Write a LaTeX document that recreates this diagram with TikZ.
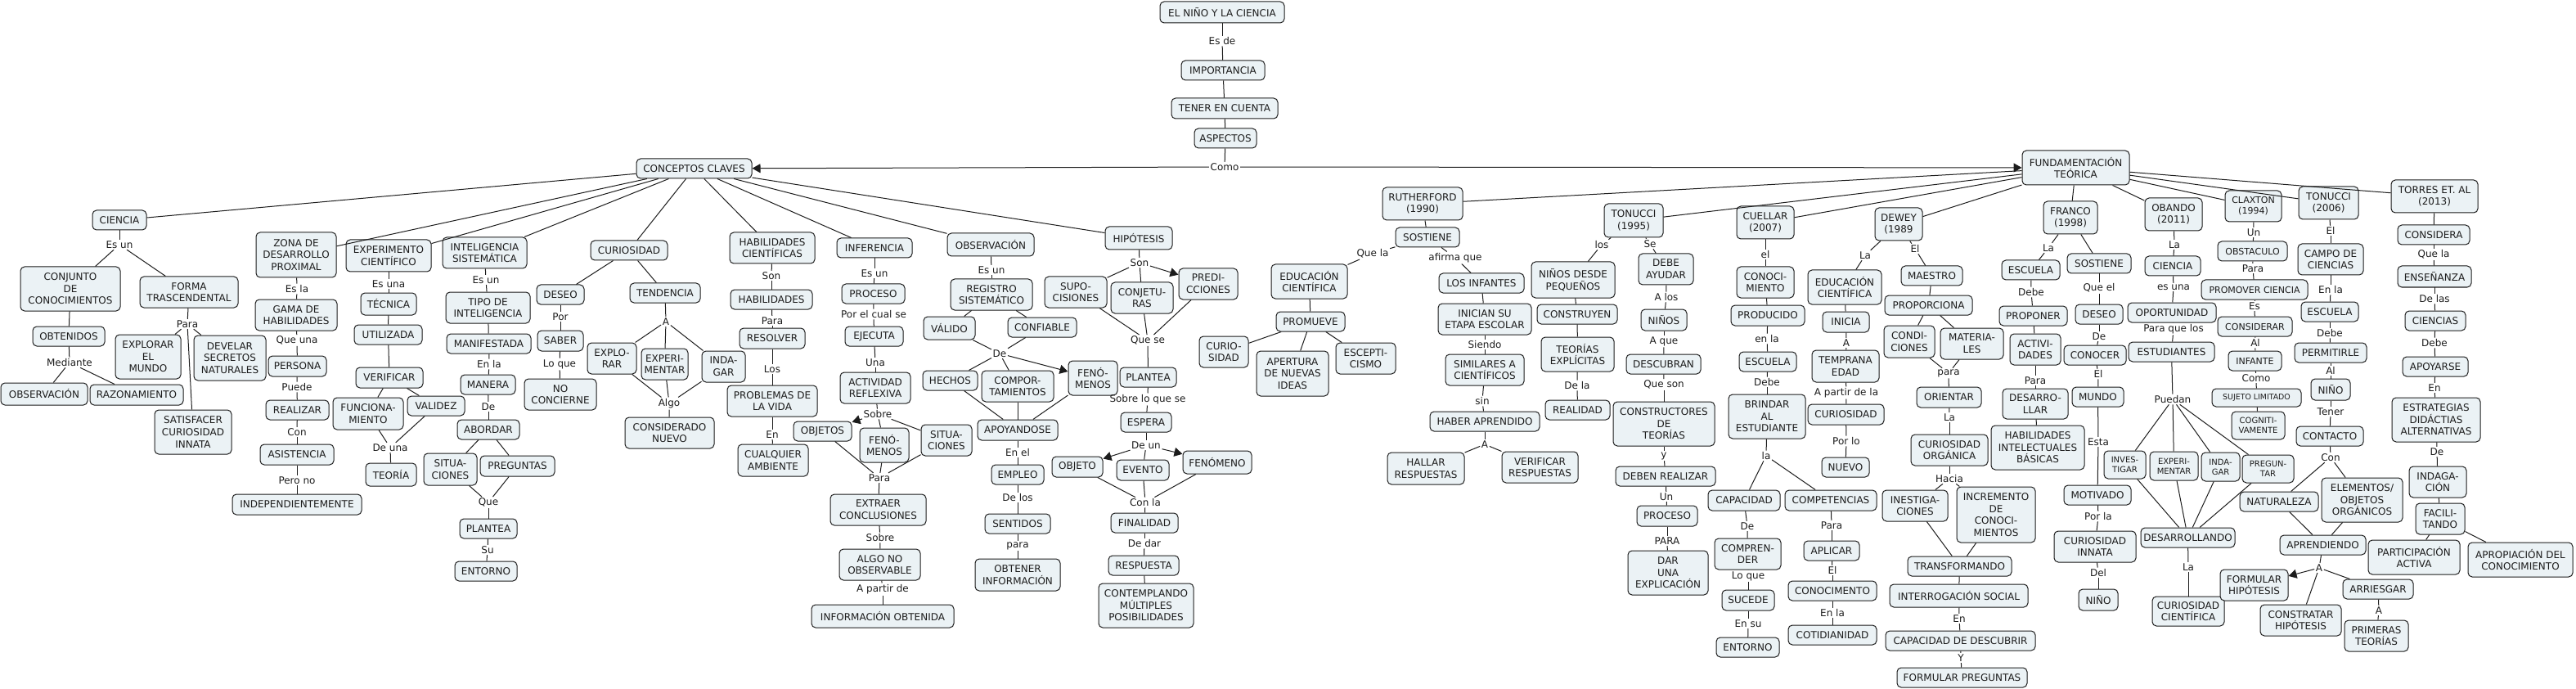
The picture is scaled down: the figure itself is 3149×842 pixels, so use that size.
\documentclass[tikz,border=0pt]{standalone}
\usepackage{fontspec}
\setmainfont{DejaVu Sans}
\usetikzlibrary{arrows.meta}
\definecolor{nfill}{RGB}{235,242,245}
\definecolor{ink}{RGB}{28,28,28}
\newcommand\cmapnode[7][]{\node[box,#1,minimum width={(#5-#3)*1pt},minimum height={(#6-#4)*1pt}] (#2) at ({(#3+#5)/2},{(#4+#6)/2}) {#7};}
\newcommand\cmaplab[4]{\node[lab] (#1) at (#2,#3) {#4};}
\begin{document}
\begin{tikzpicture}[x=1pt,y=-1pt,
  box/.style={draw=ink, fill=nfill, rounded corners=5pt, line width=1pt, align=center, inner xsep=2pt, inner ysep=1pt, font=\fontsize{12}{14.6}\selectfont, text=ink},
  seleven/.style={font=\fontsize{11}{13.2}\selectfont},
  sten/.style={font=\fontsize{10}{12}\selectfont},
  snine/.style={font=\fontsize{9.4}{11}\selectfont},
  lab/.style={inner sep=1.5pt, font=\fontsize{12}{14.6}\selectfont, text=ink},
  ln/.style={draw=ink, line width=1pt},
  arr/.style={ln, -{Triangle[length=10pt,width=11pt]}},
]
\useasboundingbox (0,0) rectangle (3149,842);
% ---------- top chain ----------
\cmapnode{t1}{1418}{2}{1570}{28}{EL NIÑO Y LA CIENCIA}
\cmapnode{t2}{1444}{74}{1546}{98}{IMPORTANCIA}
\cmapnode{t3}{1432}{120}{1562}{145}{TENER EN CUENTA}
\cmapnode{t4}{1460}{157}{1536}{181}{ASPECTOS}
\cmapnode{cc}{778}{194}{919}{218}{CONCEPTOS CLAVES}
\cmapnode{ft}{2472}{184}{2603}{226}{FUNDAMENTACIÓN\\TEÓRICA}
\cmaplab{lEsde}{1494}{50}{Es de}
\cmaplab{lComo}{1497}{204}{Como}
% ---------- CIENCIA ----------
\cmapnode{cien}{113}{257}{179}{281}{CIENCIA}
\cmapnode{conj}{25}{326}{147}{380}{CONJUNTO\\DE\\CONOCIMIENTOS}
\cmapnode{forma}{171}{338}{291}{376}{FORMA\\TRASCENDENTAL}
\cmapnode{obten}{40}{399}{128}{423}{OBTENIDOS}
\cmapnode{obsL}{1}{468}{107}{495}{OBSERVACIÓN}
\cmapnode{razo}{110}{470}{224}{495}{RAZONAMIENTO}
\cmapnode{explm}{141}{409}{221}{463}{EXPLORAR\\EL\\MUNDO}
\cmapnode{devel}{237}{410}{325}{465}{DEVELAR\\SECRETOS\\NATURALES}
\cmapnode{satis}{189}{501}{283}{555}{SATISFACER\\CURIOSIDAD\\INNATA}
\cmaplab{lEsun1}{146}{299}{Es un}
\cmaplab{lMed}{85}{443}{Mediante}
\cmaplab{lPara1}{229}{396}{Para}
% ---------- ZDP ----------
\cmapnode{zdp}{313}{284}{411}{339}{ZONA DE\\DESARROLLO\\PROXIMAL}
\cmapnode{gama}{312}{366}{412}{404}{GAMA DE\\HABILIDADES}
\cmapnode{pers}{328}{435}{399}{460}{PERSONA}
\cmapnode{real}{325}{489}{402}{513}{REALIZAR}
\cmapnode{asis}{318}{543}{408}{568}{ASISTENCIA}
\cmapnode{indep}{284}{604}{442}{629}{INDEPENDIENTEMENTE}
\cmaplab{lEsla}{363}{353}{Es la}
\cmaplab{lQueuna}{363}{416}{Que una}
\cmaplab{lPuede}{363}{473}{Puede}
\cmaplab{lCon}{363}{528}{Con}
\cmaplab{lPerono}{363}{587}{Pero no}
% ---------- EXPERIMENTO ----------
\cmapnode{expc}{423}{293}{527}{332}{EXPERIMENTO\\CIENTÍFICO}
\cmapnode{tecn}{441}{358}{509}{385}{TÉCNICA}
\cmapnode{util}{433}{397}{516}{421}{UTILIZADA}
\cmapnode{verif}{435}{449}{517}{474}{VERIFICAR}
\cmapnode{func}{407}{486}{493}{525}{FUNCIONA-\\MIENTO}
\cmapnode{valid}{498}{484}{568}{508}{VALIDEZ}
\cmapnode{teoria}{447}{566}{509}{594}{TEORÍA}
\cmaplab{lEsuna}{475}{347}{Es una}
\cmaplab{lDeuna}{477}{547}{De una}
% ---------- INTELIGENCIA ----------
\cmapnode{intel}{541}{290}{644}{328}{INTELIGENCIA\\SISTEMÁTICA}
\cmapnode{tipo}{545}{357}{648}{395}{TIPO DE\\INTELIGENCIA}
\cmapnode{manif}{546}{408}{649}{432}{MANIFESTADA}
\cmapnode{manera}{563}{458}{630}{482}{MANERA}
\cmapnode{abord}{559}{513}{635}{537}{ABORDAR}
\cmapnode{sit1}{518}{554}{583}{593}{SITUA-\\CIONES}
\cmapnode{preg}{587}{557}{678}{582}{PREGUNTAS}
\cmapnode{plant1}{562}{634}{632}{658}{PLANTEA}
\cmapnode{ent1}{556}{686}{632}{710}{ENTORNO}
\cmaplab{lEsun2}{594}{342}{Es un}
\cmaplab{lEnla1}{598}{445}{En la}
\cmaplab{lDe1}{597}{497}{De}
\cmaplab{lQue}{597}{614}{Que}
\cmaplab{lSu}{596}{672}{Su}
% ---------- CURIOSIDAD ----------
\cmapnode{curi}{722}{294}{816}{318}{CURIOSIDAD}
\cmapnode{deseo}{656}{348}{714}{372}{DESEO}
\cmapnode{saber}{657}{404}{713}{429}{SABER}
\cmapnode{noconc}{641}{463}{729}{501}{NO\\CONCIERNE}
\cmapnode{tend}{770}{346}{856}{370}{TENDENCIA}
\cmapnode{explo}{718}{419}{778}{457}{EXPLO-\\RAR}
\cmapnode{exper}{784}{426}{841}{464}{EXPERI-\\MENTAR}
\cmapnode{indag}{858}{429}{911}{467}{INDA-\\GAR}
\cmapnode{consid}{764}{510}{873}{548}{CONSIDERADO\\NUEVO}
\cmaplab{lPor}{685}{387}{Por}
\cmaplab{lLoque}{684}{445}{Lo que}
\cmaplab{lA1}{814}{393}{A}
\cmaplab{lAlgo}{818}{493}{Algo}
% ---------- HABILIDADES ----------
\cmapnode{habc}{892}{284}{996}{322}{HABILIDADES\\CIENTÍFICAS}
\cmapnode{hab}{893}{354}{993}{378}{HABILIDADES}
\cmapnode{resol}{904}{401}{984}{426}{RESOLVER}
\cmapnode{probl}{889}{471}{999}{509}{PROBLEMAS DE\\LA VIDA}
\cmapnode{cualq}{902}{543}{988}{582}{CUALQUIER\\AMBIENTE}
\cmaplab{lSon1}{943}{337}{Son}
\cmaplab{lPara2}{944}{392}{Para}
\cmaplab{lLos}{944}{451}{Los}
\cmaplab{lEn1}{944}{531}{En}
% ---------- INFERENCIA ----------
\cmapnode{infe}{1023}{291}{1115}{315}{INFERENCIA}
\cmapnode{proc1}{1029}{347}{1106}{371}{PROCESO}
\cmapnode{ejec}{1033}{399}{1104}{423}{EJECUTA}
\cmapnode{activ}{1027}{455}{1113}{493}{ACTIVIDAD\\REFLEXIVA}
\cmapnode{objs}{970}{515}{1041}{539}{OBJETOS}
\cmapnode{fen1}{1051}{523}{1111}{565}{FENÓ-\\MENOS}
\cmapnode{sit2}{1126}{519}{1188}{557}{SITUA-\\CIONES}
\cmapnode{extr}{1015}{604}{1132}{642}{EXTRAER\\CONCLUSIONES}
\cmapnode{algo}{1026}{671}{1125}{709}{ALGO NO\\OBSERVABLE}
\cmapnode{infob}{992}{739}{1166}{767}{INFORMACIÓN OBTENIDA}
\cmaplab{lEsun3}{1069}{334}{Es un}
\cmaplab{lPorel}{1068}{384}{Por el cual se}
\cmaplab{lUna}{1070}{443}{Una}
\cmaplab{lSobre1}{1073}{506}{Sobre}
\cmaplab{lPara3}{1075}{584}{Para}
\cmaplab{lSobre2}{1076}{657}{Sobre}
\cmaplab{lApartir}{1079}{720}{A partir de}
% ---------- OBSERVACION ----------
\cmapnode{obs}{1158}{285}{1264}{313}{OBSERVACIÓN}
\cmapnode{regis}{1162}{341}{1262}{379}{REGISTRO\\SISTEMÁTICO}
\cmapnode{valido}{1129}{387}{1192}{415}{VÁLIDO}
\cmapnode{confi}{1232}{388}{1316}{412}{CONFIABLE}
\cmapnode{hech}{1128}{453}{1195}{477}{HECHOS}
\cmapnode{compo}{1200}{453}{1288}{491}{COMPOR-\\TAMIENTOS}
\cmapnode{fen2}{1306}{441}{1366}{483}{FENÓ-\\MENOS}
\cmapnode{apoy}{1195}{513}{1293}{538}{APOYANDOSE}
\cmapnode{empleo}{1212}{568}{1276}{592}{EMPLEO}
\cmapnode{sent}{1204}{628}{1284}{652}{SENTIDOS}
\cmapnode{obti}{1192}{683}{1296}{722}{OBTENER\\INFORMACIÓN}
\cmaplab{lEsun4}{1212}{330}{Es un}
\cmaplab{lDe2}{1222}{432}{De}
\cmaplab{lEnel}{1244}{553}{En el}
\cmaplab{lDelos}{1244}{608}{De los}
\cmaplab{lpara}{1244}{667}{para}
% ---------- HIPOTESIS ----------
\cmapnode{hip}{1351}{277}{1433}{305}{HIPÓTESIS}
\cmapnode{supo}{1277}{338}{1353}{376}{SUPO-\\CISIONES}
\cmapnode{conj2}{1358}{345}{1434}{383}{CONJETU-\\RAS}
\cmapnode{pred}{1441}{328}{1513}{366}{PREDI-\\CCIONES}
\cmapnode{plant2}{1369}{449}{1438}{473}{PLANTEA}
\cmapnode{esp}{1370}{504}{1432}{528}{ESPERA}
\cmapnode{objeto}{1286}{558}{1348}{583}{OBJETO}
\cmapnode{evento}{1365}{562}{1429}{587}{EVENTO}
\cmapnode{fenom}{1446}{551}{1530}{579}{FENÓMENO}
\cmapnode{final}{1358}{627}{1440}{651}{FINALIDAD}
\cmapnode{resp}{1355}{679}{1441}{703}{RESPUESTA}
\cmapnode{contem}{1343}{713}{1459}{767}{CONTEMPLANDO\\MÚLTIPLES\\POSIBILIDADES}
\cmaplab{lSon2}{1393}{321}{Son}
\cmaplab{lQuese}{1403}{416}{Que se}
\cmaplab{lSobrelo}{1403}{488}{Sobre lo que se}
\cmaplab{lDeun}{1401}{544}{De un}
\cmaplab{lConla}{1400}{614}{Con la}
\cmaplab{lDedar}{1399}{664}{De dar}
% ---------- RUTHERFORD ----------
\cmapnode{ruth}{1690}{229}{1788}{269}{RUTHERFORD\\(1990)}
\cmapnode{sost1}{1706}{278}{1784}{302}{SOSTIENE}
\cmapnode{educ1}{1554}{323}{1647}{365}{EDUCACIÓN\\CIENTÍFICA}
\cmapnode{promu}{1560}{381}{1644}{405}{PROMUEVE}
\cmapnode{curio2}{1466}{411}{1526}{449}{CURIO-\\SIDAD}
\cmapnode{apert}{1536}{429}{1624}{484}{APERTURA\\DE NUEVAS\\IDEAS}
\cmapnode{escep}{1633}{419}{1706}{457}{ESCEPTI-\\CISMO}
\cmapnode{infan}{1759}{334}{1863}{358}{LOS INFANTES}
\cmapnode{inic}{1758}{371}{1872}{409}{INICIAN SU\\ETAPA ESCOLAR}
\cmapnode{simil}{1767}{433}{1863}{471}{SIMILARES A\\CIENTÍFICOS}
\cmapnode{haber}{1748}{503}{1882}{527}{HABER APRENDIDO}
\cmapnode{hallar}{1696}{553}{1790}{592}{HALLAR\\RESPUESTAS}
\cmapnode{verifr}{1836}{552}{1929}{590}{VERIFICAR\\RESPUESTAS}
\cmaplab{lQuela1}{1678}{310}{Que la}
\cmaplab{lAfirma}{1779}{315}{afirma que}
\cmaplab{lSiendo}{1815}{421}{Siendo}
\cmaplab{lSin}{1812}{490}{sin}
\cmaplab{lA2}{1815}{543}{A}
% ---------- TONUCCI 1995 ----------
\cmapnode{ton1}{1961}{249}{2033}{290}{TONUCCI\\(1995)}
\cmapnode{ninosd}{1872}{320}{1974}{364}{NIÑOS DESDE\\PEQUEÑOS}
\cmapnode{constr}{1879}{372}{1977}{396}{CONSTRUYEN}
\cmapnode{teorex}{1884}{412}{1973}{454}{TEORÍAS\\EXPLÍCITAS}
\cmapnode{realid}{1889}{489}{1968}{513}{REALIDAD}
\cmapnode{debe}{2003}{310}{2070}{348}{DEBE\\AYUDAR}
\cmapnode{ninos}{2006}{378}{2062}{404}{NIÑOS}
\cmapnode{descu}{1988}{433}{2079}{457}{DESCUBRAN}
\cmapnode{constt}{1972}{491}{2096}{545}{CONSTRUCTORES\\DE\\TEORÍAS}
\cmapnode{debenr}{1975}{570}{2097}{594}{DEBEN REALIZAR}
\cmapnode{proc2}{2001}{618}{2075}{643}{PROCESO}
\cmapnode{dar}{1990}{673}{2088}{727}{DAR\\UNA\\EXPLICACIÓN}
\cmaplab{lLos2}{1958}{299}{los}
\cmaplab{lSe}{2017}{298}{Se}
\cmaplab{lDela}{1928}{471}{De la}
\cmaplab{lAlos}{2037}{363}{A los}
\cmaplab{lAque}{2034}{417}{A que}
\cmaplab{lQueson}{2034}{470}{Que son}
\cmaplab{ly}{2034}{557}{y}
\cmaplab{lUn}{2037}{607}{Un}
\cmaplab{lPARA}{2038}{661}{PARA}
% ---------- CUELLAR ----------
\cmapnode{cuel}{2123}{252}{2193}{292}{CUELLAR\\(2007)}
\cmapnode{conoc}{2123}{326}{2193}{364}{CONOCI-\\MIENTO}
\cmapnode{produ}{2116}{373}{2206}{398}{PRODUCIDO}
\cmapnode{escu1}{2126}{430}{2196}{454}{ESCUELA}
\cmapnode{brind}{2113}{482}{2207}{536}{BRINDAR\\AL\\ESTUDIANTE}
\cmapnode{capac}{2088}{599}{2176}{624}{CAPACIDAD}
\cmapnode{compr}{2096}{658}{2177}{696}{COMPREN-\\DER}
\cmapnode{suce}{2105}{721}{2169}{746}{SUCEDE}
\cmapnode{ent2}{2098}{779}{2175}{803}{ENTORNO}
\cmapnode{compe}{2182}{599}{2294}{624}{COMPETENCIAS}
\cmapnode{aplic}{2205}{661}{2273}{685}{APLICAR}
\cmapnode{conocm}{2186}{710}{2294}{734}{CONOCIMENTO}
\cmapnode{cotid}{2186}{764}{2294}{788}{COTIDIANIDAD}
\cmaplab{lel}{2158}{311}{el}
\cmaplab{lenla}{2160}{414}{en la}
\cmaplab{lDebe1}{2160}{467}{Debe}
\cmaplab{lla}{2159}{557}{la}
\cmaplab{lDe3}{2136}{643}{De}
\cmaplab{lLoque2}{2137}{704}{Lo que}
\cmaplab{lEnsu}{2137}{762}{En su}
\cmaplab{lPara4}{2239}{642}{Para}
\cmaplab{lEl1}{2240}{697}{El}
\cmaplab{lEnla2}{2240}{749}{En la}
% ---------- DEWEY ----------
\cmapnode{dew}{2292}{254}{2350}{294}{DEWEY\\(1989}
\cmapnode{educ2}{2210}{330}{2300}{372}{EDUCACIÓN\\CIENTÍFICA}
\cmapnode{inicia}{2228}{381}{2285}{406}{INICIA}
\cmapnode{tempr}{2215}{428}{2297}{467}{TEMPRANA\\EDAD}
\cmapnode{curi3}{2210}{494}{2303}{519}{CURIOSIDAD}
\cmapnode{nuevo}{2227}{559}{2285}{583}{NUEVO}
\cmapnode{maes}{2324}{325}{2399}{349}{MAESTRO}
\cmapnode{propo}{2304}{361}{2411}{385}{PROPORCIONA}
\cmapnode{condi}{2303}{398}{2365}{437}{CONDI-\\CIONES}
\cmapnode{mater}{2372}{401}{2449}{439}{MATERIA-\\LES}
\cmapnode{orien}{2343}{473}{2422}{498}{ORIENTAR}
\cmapnode{curorg}{2336}{531}{2430}{569}{CURIOSIDAD\\ORGÁNICA}
\cmapnode{inest}{2301}{599}{2381}{637}{INESTIGA-\\CIONES}
\cmapnode{incre}{2392}{595}{2488}{663}{INCREMENTO\\DE\\CONOCI-\\MIENTOS}
\cmapnode{transf}{2332}{680}{2459}{704}{TRANSFORMANDO}
\cmapnode{interr}{2310}{714}{2479}{742}{INTERROGACIÓN SOCIAL}
\cmapnode{capdes}{2305}{771}{2488}{795}{CAPACIDAD DE DESCUBRIR}
\cmapnode{formp}{2319}{816}{2478}{840}{FORMULAR PREGUNTAS}
\cmaplab{lLa1}{2280}{312}{La}
\cmaplab{lEl2}{2341}{304}{El}
\cmaplab{lA3}{2257}{419}{A}
\cmaplab{lApartirla}{2257}{480}{A partir de la}
\cmaplab{lPorlo}{2257}{539}{Por lo}
\cmaplab{lpara2}{2382}{456}{para}
\cmaplab{lLa2}{2383}{510}{La}
\cmaplab{lHacia}{2383}{585}{Hacia}
\cmaplab{lEn2}{2395}{756}{En}
\cmaplab{lY}{2397}{804}{Y}
% ---------- FRANCO ----------
\cmapnode{fran}{2498}{246}{2564}{286}{FRANCO\\(1998)}
\cmapnode{escu2}{2447}{318}{2518}{342}{ESCUELA}
\cmapnode{propon}{2444}{374}{2527}{398}{PROPONER}
\cmapnode{activ2}{2457}{408}{2519}{446}{ACTIVI-\\DADES}
\cmapnode{desar}{2448}{475}{2528}{512}{DESARRO-\\LLAR}
\cmapnode{habint}{2434}{520}{2548}{574}{HABILIDADES\\INTELECTUALES\\BÁSICAS}
\cmapnode{sost2}{2527}{310}{2605}{334}{SOSTIENE}
\cmapnode{deseo2}{2537}{372}{2595}{396}{DESEO}
\cmapnode{conoce}{2523}{422}{2599}{446}{CONOCER}
\cmapnode{mundo}{2533}{473}{2596}{497}{MUNDO}
\cmapnode{motiv}{2523}{593}{2605}{617}{MOTIVADO}
\cmapnode{curinn}{2511}{649}{2611}{687}{CURIOSIDAD\\INNATA}
\cmapnode{nino1}{2541}{720}{2589}{746}{NIÑO}
\cmaplab{lLa3}{2504}{303}{La}
\cmaplab{lDebe2}{2483}{357}{Debe}
\cmaplab{lPara5}{2488}{465}{Para}
\cmaplab{lQueel}{2566}{352}{Que el}
\cmaplab{lDe4}{2566}{411}{De}
\cmaplab{lEl3}{2565}{457}{El}
\cmaplab{lEsta}{2565}{540}{Esta}
\cmaplab{lPorla}{2565}{631}{Por la}
\cmaplab{lDel}{2565}{700}{Del}
% ---------- OBANDO ----------
\cmapnode{oban}{2622}{242}{2692}{282}{OBANDO\\(2011)}
\cmapnode{cien2}{2622}{313}{2690}{337}{CIENCIA}
\cmapnode{oport}{2601}{370}{2709}{394}{OPORTUNIDAD}
\cmapnode{estud}{2602}{418}{2707}{442}{ESTUDIANTES}
\cmapnode[sten]{inv}{2572}{551}{2623}{585}{INVES-\\TIGAR}
\cmapnode[sten]{expe2}{2628}{552}{2687}{587}{EXPERI-\\MENTAR}
\cmapnode[sten]{inda2}{2691}{553}{2738}{588}{INDA-\\GAR}
\cmapnode[sten]{pregu}{2741}{556}{2804}{590}{PREGUN-\\TAR}
\cmapnode{desarr}{2617}{645}{2732}{669}{DESARROLLANDO}
\cmapnode{curcien}{2631}{729}{2719}{765}{CURIOSIDAD\\CIENTÍFICA}
\cmaplab{lLa4}{2658}{299}{La}
\cmaplab{lesuna}{2657}{351}{es una}
\cmaplab{lParaque}{2657}{402}{Para que los}
\cmaplab{lPuedan}{2656}{488}{Puedan}
\cmaplab{lLa5}{2675}{693}{La}
% ---------- CLAXTON ----------
\cmapnode[seleven]{clax}{2720}{233}{2789}{271}{CLAXTON\\(1994)}
\cmapnode[seleven]{obst}{2711}{295}{2796}{319}{OBSTACULO}
\cmapnode[seleven]{promc}{2691}{342}{2821}{366}{PROMOVER CIENCIA}
\cmapnode[seleven]{consi}{2711}{387}{2802}{411}{CONSIDERAR}
\cmapnode[seleven]{infa}{2724}{429}{2789}{453}{INFANTE}
\cmapnode[snine]{sujet}{2704}{475}{2813}{497}{SUJETO LIMITADO}
\cmapnode[sten]{cogn}{2728}{503}{2793}{537}{COGNITI-\\VAMENTE}
\cmaplab{lUn2}{2755}{284}{Un}
\cmaplab{lPara6}{2754}{328}{Para}
\cmaplab{lEs}{2756}{374}{Es}
\cmaplab{lAl}{2757}{419}{Al}
\cmaplab{lComo2}{2758}{462}{Como}
% ---------- TONUCCI 2006 ----------
\cmapnode{ton2}{2810}{228}{2883}{268}{TONUCCI\\(2006)}
\cmapnode{campo}{2809}{298}{2889}{336}{CAMPO DE\\CIENCIAS}
\cmapnode{escu3}{2813}{369}{2883}{393}{ESCUELA}
\cmapnode{permi}{2805}{419}{2893}{443}{PERMITIRLE}
\cmapnode{nino2}{2825}{463}{2873}{489}{NIÑO}
\cmapnode{conta}{2807}{521}{2889}{545}{CONTACTO}
\cmapnode{natu}{2738}{601}{2834}{625}{NATURALEZA}
\cmapnode{eleme}{2838}{584}{2937}{638}{ELEMENTOS/\\OBJETOS\\ORGÁNICOS}
\cmapnode{apren}{2787}{654}{2892}{678}{APRENDIENDO}
\cmapnode{formh}{2714}{696}{2797}{734}{FORMULAR\\HIPÓTESIS}
\cmapnode{constr2}{2763}{739}{2862}{777}{CONSTRATAR\\HIPÓTESIS}
\cmapnode{arries}{2864}{708}{2950}{732}{ARRIESGAR}
\cmapnode{prim}{2866}{758}{2944}{796}{PRIMERAS\\TEORÍAS}
\cmaplab{lEl4}{2849}{282}{El}
\cmaplab{lEnla3}{2849}{354}{En la}
\cmaplab{lDebe3}{2848}{407}{Debe}
\cmaplab{lAl2}{2849}{453}{Al}
\cmaplab{lTener}{2849}{503}{Tener}
\cmaplab{lCon2}{2849}{559}{Con}
\cmaplab{lA4}{2835}{694}{A}
\cmaplab{lA5}{2908}{746}{A}
% ---------- TORRES ----------
\cmapnode{torr}{2923}{220}{3029}{260}{TORRES ET. AL\\(2013)}
\cmapnode{consid2}{2931}{275}{3019}{299}{CONSIDERA}
\cmapnode{ensen}{2931}{325}{3021}{351}{ENSEÑANZA}
\cmapnode{ciencias}{2940}{380}{3014}{404}{CIENCIAS}
\cmapnode{apoy2}{2937}{436}{3017}{460}{APOYARSE}
\cmapnode{estrat}{2924}{486}{3032}{540}{ESTRATEGIAS\\DIDÁCTIAS\\ALTERNATIVAS}
\cmapnode{indaga}{2945}{570}{3015}{608}{INDAGA-\\CIÓN}
\cmapnode{facil}{2953}{615}{3013}{653}{FACILI-\\TANDO}
\cmapnode{parti}{2895}{660}{3007}{702}{PARTICIPACIÓN\\ACTIVA}
\cmapnode{aprop}{3017}{663}{3145}{705}{APROPIACIÓN DEL\\CONOCIMIENTO}
\cmaplab{lQuela2}{2975}{311}{Que la}
\cmaplab{lDelas}{2976}{365}{De las}
\cmaplab{lDebe4}{2976}{419}{Debe}
\cmaplab{lEn3}{2976}{474}{En}
\cmaplab{lDe5}{2979}{552}{De}
% ---------- connectors ----------
\begin{scope}[on background layer/.try]
\foreach \a/\b in {t1/lEsde, lEsde/t2, t2/t3, t3/t4, t4/lComo,
  cc/cien, cc/zdp, cc/expc, cc/intel, cc/curi, cc/habc, cc/infe, cc/obs, cc/hip,
  cien/lEsun1, lEsun1/conj, lEsun1/forma, conj/obten, obten/lMed, lMed/obsL, lMed/razo,
  forma/lPara1, lPara1/explm, lPara1/devel, lPara1/satis,
  zdp/lEsla, lEsla/gama, gama/lQueuna, lQueuna/pers, pers/lPuede, lPuede/real, real/lCon, lCon/asis, asis/lPerono, lPerono/indep,
  expc/lEsuna, lEsuna/tecn, tecn/util, util/verif, verif/func, verif/valid, func/lDeuna, valid/lDeuna, lDeuna/teoria,
  intel/lEsun2, lEsun2/tipo, tipo/manif, manif/lEnla1, lEnla1/manera, manera/lDe1, lDe1/abord, abord/sit1, abord/preg, sit1/lQue, preg/lQue, lQue/plant1, plant1/lSu, lSu/ent1,
  curi/deseo, curi/tend, deseo/lPor, lPor/saber, saber/lLoque, lLoque/noconc, tend/lA1, lA1/explo, lA1/exper, lA1/indag, explo/lAlgo, exper/lAlgo, indag/lAlgo, lAlgo/consid,
  habc/lSon1, lSon1/hab, hab/lPara2, lPara2/resol, resol/lLos, lLos/probl, probl/lEn1, lEn1/cualq,
  infe/lEsun3, lEsun3/proc1, proc1/lPorel, lPorel/ejec, ejec/lUna, lUna/activ, activ/lSobre1, lSobre1/fen1, lSobre1/sit2, objs/lPara3, fen1/lPara3, sit2/lPara3, lPara3/extr, extr/lSobre2, lSobre2/algo, algo/lApartir, lApartir/infob,
  obs/lEsun4, lEsun4/regis, regis/valido, regis/confi, valido/lDe2, confi/lDe2, lDe2/hech, lDe2/compo, hech/apoy, compo/apoy, fen2/apoy, apoy/lEnel, lEnel/empleo, empleo/lDelos, lDelos/sent, sent/lpara, lpara/obti,
  hip/lSon2, lSon2/supo, lSon2/conj2, supo/lQuese, conj2/lQuese, pred/lQuese, lQuese/plant2, plant2/lSobrelo, lSobrelo/esp, esp/lDeun, lDeun/evento, objeto/lConla, evento/lConla, fenom/lConla, lConla/final, final/lDedar, lDedar/resp, resp/contem,
  ft/ruth, ft/ton1, ft/cuel, ft/dew, ft/fran, ft/oban, ft/clax, ft/ton2, ft/torr,
  ruth/sost1, sost1/lQuela1, lQuela1/educ1, educ1/promu, promu/curio2, promu/apert, promu/escep, sost1/lAfirma, lAfirma/infan, infan/inic, inic/lSiendo, lSiendo/simil, simil/lSin, lSin/haber, haber/lA2, lA2/hallar, lA2/verifr,
  ton1/lLos2, lLos2/ninosd, ninosd/constr, constr/teorex, teorex/lDela, lDela/realid, ton1/lSe, lSe/debe, debe/lAlos, lAlos/ninos, ninos/lAque, lAque/descu, descu/lQueson, lQueson/constt, constt/ly, ly/debenr, debenr/lUn, lUn/proc2, proc2/lPARA, lPARA/dar,
  cuel/lel, lel/conoc, conoc/produ, produ/lenla, lenla/escu1, escu1/lDebe1, lDebe1/brind, brind/lla, lla/capac, lla/compe, capac/lDe3, lDe3/compr, compr/lLoque2, lLoque2/suce, suce/lEnsu, lEnsu/ent2, compe/lPara4, lPara4/aplic, aplic/lEl1, lEl1/conocm, conocm/lEnla2, lEnla2/cotid,
  dew/lLa1, lLa1/educ2, educ2/inicia, inicia/lA3, lA3/tempr, tempr/lApartirla, lApartirla/curi3, curi3/lPorlo, lPorlo/nuevo, dew/lEl2, lEl2/maes, maes/propo, propo/condi, propo/mater, condi/lpara2, mater/lpara2, lpara2/orien, orien/lLa2, lLa2/curorg, curorg/lHacia, lHacia/inest, lHacia/incre, inest/transf, incre/transf, transf/interr, interr/lEn2, lEn2/capdes, capdes/lY, lY/formp,
  fran/lLa3, lLa3/escu2, escu2/lDebe2, lDebe2/propon, propon/activ2, activ2/lPara5, lPara5/desar, desar/habint, fran/sost2, sost2/lQueel, lQueel/deseo2, deseo2/lDe4, lDe4/conoce, conoce/lEl3, lEl3/mundo, mundo/lEsta, lEsta/motiv, motiv/lPorla, lPorla/curinn, curinn/lDel, lDel/nino1,
  oban/lLa4, lLa4/cien2, cien2/lesuna, lesuna/oport, oport/lParaque, lParaque/estud, estud/lPuedan, lPuedan/inv, lPuedan/expe2, lPuedan/inda2, lPuedan/pregu, inv/desarr, expe2/desarr, inda2/desarr, pregu/desarr, desarr/lLa5, lLa5/curcien,
  clax/lUn2, lUn2/obst, obst/lPara6, lPara6/promc, promc/lEs, lEs/consi, consi/lAl, lAl/infa, infa/lComo2, lComo2/sujet, sujet/cogn,
  ton2/lEl4, lEl4/campo, campo/lEnla3, lEnla3/escu3, escu3/lDebe3, lDebe3/permi, permi/lAl2, lAl2/nino2, nino2/lTener, lTener/conta, conta/lCon2, lCon2/natu, lCon2/eleme, natu/apren, eleme/apren, apren/lA4, lA4/constr2, lA4/arries, arries/lA5, lA5/prim,
  torr/consid2, consid2/lQuela2, lQuela2/ensen, ensen/lDelas, lDelas/ciencias, ciencias/lDebe4, lDebe4/apoy2, apoy2/lEn3, lEn3/estrat, estrat/lDe5, lDe5/indaga, indaga/facil, facil/parti, facil/aprop}
  \draw[ln] (\a) -- (\b);
\end{scope}
\foreach \a/\b in {lComo/cc, lComo/ft, lSobre1/objs, lDe2/fen2, lSon2/pred, lDeun/objeto, lDeun/fenom, lA4/formh}
  \draw[arr] (\a) -- (\b);
\end{tikzpicture}
\end{document}
